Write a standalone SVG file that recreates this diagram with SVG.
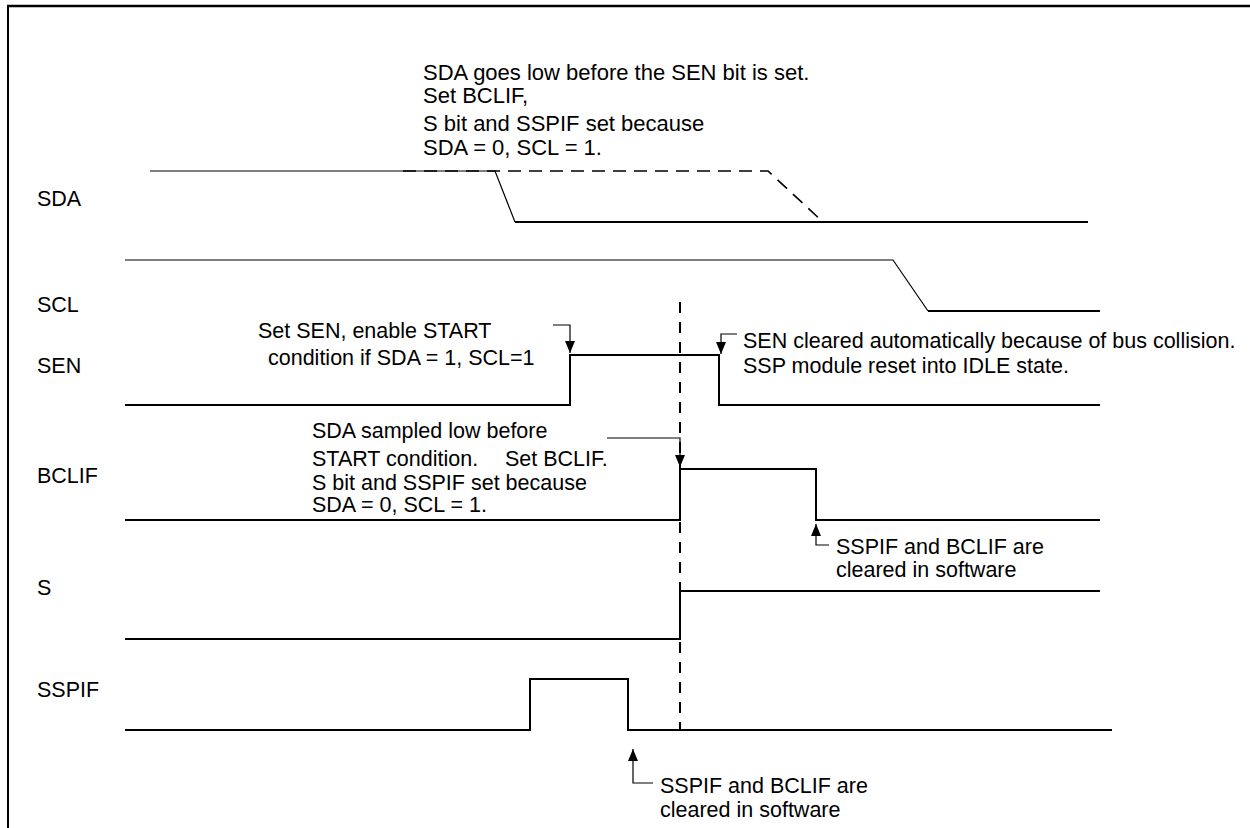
<svg xmlns="http://www.w3.org/2000/svg" width="1250" height="828" viewBox="0 0 1250 828">
<defs>
<style>
text{font-family:"Liberation Sans",Arial,sans-serif;font-size:21.5px;fill:#000}
.big{font-size:22px}
.sig{fill:none;stroke:#000;stroke-width:2}
.thin{fill:none;stroke:#000;stroke-width:1.2}
.dash{fill:none;stroke:#000;stroke-width:1.6;stroke-dasharray:13 8}
.vdash{fill:none;stroke:#000;stroke-width:2;stroke-dasharray:11 9}
.ptr{fill:none;stroke:#000;stroke-width:1.2;marker-end:url(#ah)}
</style>
<marker id="ah" markerUnits="userSpaceOnUse" markerWidth="12" markerHeight="10" refX="12" refY="5" orient="auto" viewBox="0 0 12 10">
<path d="M0,0 L12,5 L0,10 z" fill="#000"/>
</marker>
</defs>
<g id="frame">
<path d="M7,6 H1250" stroke="#000" stroke-width="2.5" fill="none"/>
<path d="M8,6 V828" stroke="#000" stroke-width="2" fill="none"/>
</g>
<g id="labels">
<text x="37" y="206">SDA</text>
<text x="37" y="312">SCL</text>
<text x="37" y="373">SEN</text>
<text x="37" y="483">BCLIF</text>
<text x="37" y="595">S</text>
<text x="37" y="697">SSPIF</text>
</g>
<g id="sda">
<path class="thin" d="M150,171 H495 L515,222"/>
<path class="sig" d="M515,222 H1088"/>
<path class="dash" d="M403,171 H768 L823,222"/>
</g>
<g id="scl">
<path class="thin" d="M125,260 H893 L928,311"/>
<path class="sig" d="M928,311 H1100"/>
</g>
<g id="sen">
<path class="sig" d="M125,405 H570 V355 H719 V405 H1100"/>
</g>
<g id="bclif">
<path class="sig" d="M125,520 H680 V469 H816 V520 H1100"/>
</g>
<g id="s">
<path class="sig" d="M125,639 H680 V591 H1100"/>
</g>
<g id="sspif">
<path class="sig" d="M125,730 H530 V679 H628 V730 H1112"/>
</g>
<g id="marker-line">
<path class="vdash" d="M680,302 V730"/>
</g>
<g id="note-sda" class="big">
<text class="big" x="423" y="80">SDA goes low before the SEN bit is set.</text>
<text class="big" x="423" y="103">Set BCLIF,</text>
<text class="big" x="423" y="131">S bit and SSPIF set because</text>
<text class="big" x="423" y="155">SDA = 0, SCL = 1.</text>
</g>
<g id="note-sen-set">
<text x="258" y="338">Set SEN, enable START</text>
<text x="268" y="365">condition if SDA = 1, SCL=1</text>
</g>
<g id="note-sen-clear">
<text x="743" y="348">SEN cleared automatically because of bus collision.</text>
<text x="743" y="373">SSP module reset into IDLE state.</text>
</g>
<g id="note-bclif">
<text x="312" y="438">SDA sampled low before</text>
<text x="312" y="466">START condition.<tspan x="505">Set BCLIF.</tspan></text>
<text x="312" y="490">S bit and SSPIF set because</text>
<text x="312" y="512">SDA = 0, SCL = 1.</text>
</g>
<g id="note-clear1">
<text x="836" y="554">SSPIF and BCLIF are</text>
<text x="836" y="577">cleared in software</text>
</g>
<g id="note-clear2">
<text x="660" y="793">SSPIF and BCLIF are</text>
<text x="660" y="817">cleared in software</text>
</g>
<g id="connectors">
<path class="ptr" d="M553,325 H570 V353"/>
<path class="ptr" d="M737,334 H721 V354"/>
<path class="ptr" d="M607,438 H680 V467"/>
<path class="ptr" d="M829,545 H816 V524"/>
<path class="ptr" d="M653,783 H633 V749"/>
</g>
</svg>
